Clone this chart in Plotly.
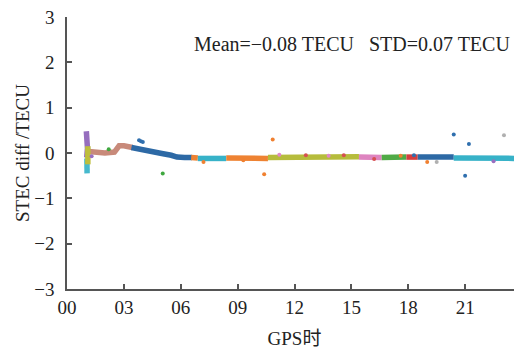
import plotly.graph_objects as go

# ---- data (GPS hour, STEC diff in TECU) ----
spike_purple_t = [1.02, 1.05, 1.08, 1.04]
spike_purple_v = [0.48, 0.30, 0.10, -0.10]
spike_cyan_t = [1.05, 1.07, 1.06]
spike_cyan_v = [-0.12, -0.30, -0.45]
spike_olive_t = [1.1, 1.12, 1.1]
spike_olive_v = [0.15, -0.05, -0.25]

brown_t = [1.0, 1.5, 2.0, 2.5, 2.6, 2.75, 3.0, 3.3, 3.45]
brown_v = [0.04, 0.01, 0.0, 0.02, 0.08, 0.16, 0.16, 0.15, 0.12]

blue1_t = [3.4, 3.7, 4.0, 4.5, 5.0, 5.5, 5.8, 6.2, 6.6]
blue1_v = [0.12, 0.09, 0.06, 0.03, -0.01, -0.05, -0.09, -0.10, -0.10]

orange1_t = [6.55, 6.9]
orange1_v = [-0.10, -0.11]

cyan1_t = [6.9, 7.3, 7.8, 8.4]
cyan1_v = [-0.12, -0.12, -0.13, -0.12]

orange2_t = [8.4, 9.0, 9.6, 10.0, 10.6]
orange2_v = [-0.11, -0.12, -0.12, -0.13, -0.12]

olive_t = [10.6, 11.5, 12.5, 13.5, 14.5, 15.4]
olive_v = [-0.10, -0.10, -0.09, -0.08, -0.07, -0.08]

pink_t = [15.4, 16.0, 16.6]
pink_v = [-0.09, -0.09, -0.10]

green_t = [16.6, 17.2, 17.9]
green_v = [-0.10, -0.09, -0.09]

red_t = [17.9, 18.5]
red_v = [-0.09, -0.09]

blue2_t = [18.5, 19.2, 19.8, 20.4]
blue2_v = [-0.09, -0.08, -0.09, -0.09]

cyan2_t = [20.4, 21.5, 22.5, 23.3, 24.0]
cyan2_v = [-0.11, -0.11, -0.12, -0.12, -0.12]

# outliers / scattered points
out_t = [3.8, 3.9, 4.0, 5.05, 7.2, 10.85, 10.4, 20.4, 21.2, 21.0, 23.05, 19.0, 19.5, 22.5, 1.3, 2.2, 12.6, 13.8, 14.6, 16.2, 17.6, 18.3, 9.3, 11.2]
out_v = [0.28, 0.26, 0.24, -0.45, -0.20, 0.30, -0.47, 0.41, 0.20, -0.50, 0.39, -0.20, -0.20, -0.18, -0.07, 0.08, -0.05, -0.06, -0.05, -0.13, -0.06, -0.05, -0.16, -0.04]
out_c = ["#2f6fae", "#2f6fae", "#2f6fae", "#3fa83f", "#f08030", "#f08030", "#f08030", "#2f6fae", "#2f6fae", "#2f6fae", "#b0b0b0", "#f08030", "#b0b0b0", "#9a6fc0", "#9a6fc0", "#3fa83f", "#d65050", "#e088c8", "#d65050", "#d65050", "#f08030", "#2f6fae", "#f08030", "#e088c8"]

arcs = [
    (brown_t, brown_v, "rgb(200,138,122)"),
    (spike_purple_t, spike_purple_v, "rgb(150,110,190)"),
    (spike_cyan_t, spike_cyan_v, "rgb(70,185,205)"),
    (spike_olive_t, spike_olive_v, "rgb(190,190,60)"),
    (blue1_t, blue1_v, "rgb(45,105,165)"),
    (orange1_t, orange1_v, "rgb(238,130,50)"),
    (cyan1_t, cyan1_v, "rgb(55,178,200)"),
    (orange2_t, orange2_v, "rgb(238,130,50)"),
    (olive_t, olive_v, "rgb(182,188,60)"),
    (pink_t, pink_v, "rgb(222,132,192)"),
    (green_t, green_v, "rgb(80,170,70)"),
    (red_t, red_v, "rgb(212,62,62)"),
    (blue2_t, blue2_v, "rgb(45,105,165)"),
    (cyan2_t, cyan2_v, "rgb(55,178,200)"),
]

x_ticks = [0, 3, 6, 9, 12, 15, 18, 21]
x_labels = ["00", "03", "06", "09", "12", "15", "18", "21"]
y_ticks = [-3, -2, -1, 0, 1, 2, 3]

fig = go.Figure()
for t, v, c in arcs:
    fig.add_trace(go.Scatter(x=t, y=v, mode="lines", line=dict(color=c, width=5.5),
                             hoverinfo="skip", showlegend=False))
fig.add_trace(go.Scatter(x=out_t, y=out_v, mode="markers",
                         marker=dict(color=out_c, size=4), showlegend=False))

font = "Liberation Serif, Noto Sans CJK SC, serif"
axcol = "#555555"
# the page body has an 8px margin, so the figure is sized 514x341
fig.update_layout(
    width=514, height=341,
    margin=dict(l=59, r=0, t=9, b=60, autoexpand=False),
    paper_bgcolor="white", plot_bgcolor="white",
    font=dict(family=font, size=19, color="#222222"),
    showlegend=False,
    xaxis=dict(range=[0, 24], tickvals=x_ticks, ticktext=x_labels,
               ticks="inside", ticklen=5, tickwidth=1.5, tickcolor=axcol,
               showline=True, linecolor=axcol, linewidth=1.5,
               showgrid=False, zeroline=False, automargin=False,
               ticklabeloverflow="allow",
               tickfont=dict(family=font, size=19),
               title=dict(text="GPS时", font=dict(family=font, size=19), standoff=16)),
    yaxis=dict(range=[-3, 3], tickvals=y_ticks,
               ticks="inside", ticklen=5, tickwidth=1.5, tickcolor=axcol,
               showline=True, linecolor=axcol, linewidth=1.5,
               showgrid=False, zeroline=False, automargin=False,
               ticklabelstandoff=7, ticklabeloverflow="allow",
               tickfont=dict(family=font, size=19),
               title=dict(text="STEC diff /TECU", font=dict(family=font, size=19), standoff=0)),
    annotations=[dict(text="Mean=\u22120.08 TECU\u00a0\u00a0\u00a0STD=0.07 TECU",
                      x=0.626, y=0.90, xref="paper", yref="paper",
                      xanchor="center", yanchor="middle", showarrow=False,
                      font=dict(size=20, family=font, color="#222222"))],
)
fig.write_html("out.html")
